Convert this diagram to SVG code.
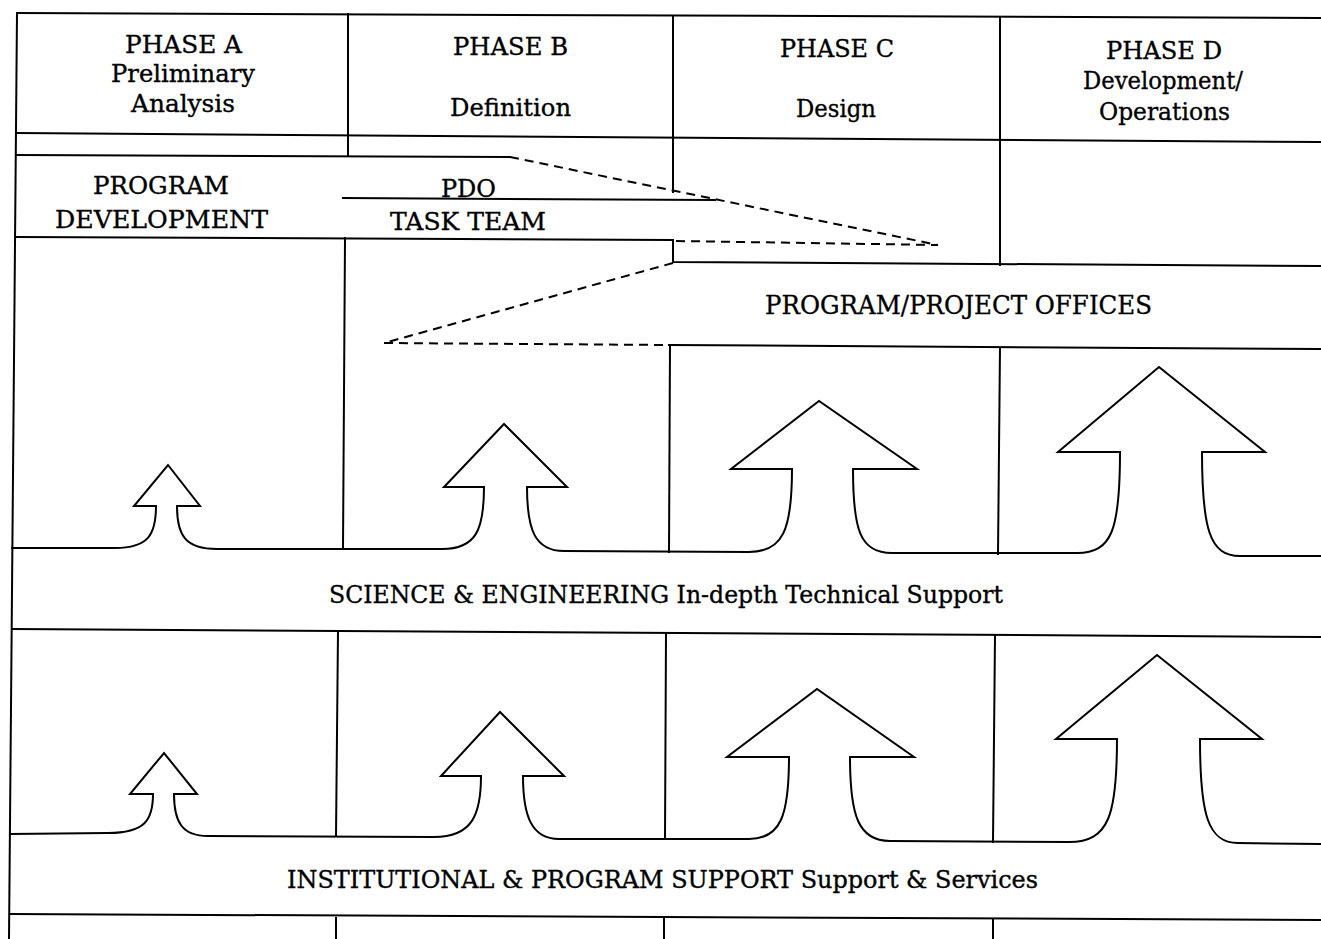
<svg xmlns="http://www.w3.org/2000/svg" width="1321" height="939" viewBox="0 0 1321 939">
<style>
.ln{fill:none;stroke:#000;stroke-width:2;stroke-linecap:square}
.ds{fill:none;stroke:#000;stroke-width:2;stroke-dasharray:9 6}
.t{font-family:"DejaVu Serif","Liberation Serif",serif;fill:#000;stroke:#000;stroke-width:0.35;text-anchor:middle}
.h{font-size:25px}
.b{font-size:24px}
.p{font-size:26px}
</style>
<rect width="1321" height="939" fill="#fff"/>
<g id="grid">
<path class="ln" d="M17 13 L1321 18"/>
<path class="ln" d="M17 13 L9 938"/>
<path class="ln" d="M17 133 L1321 142"/>
<path class="ln" d="M348 14 L348 155"/>
<path class="ln" d="M673 16 L673 192"/>
<path class="ln" d="M1000 17 L1000 265"/>
<path class="ln" d="M17 155 L510 157"/>
<path class="ln" d="M343 198 L715 200"/>
<path class="ln" d="M17 237 L673 240 L673 262 L1321 266"/>
<path class="ln" d="M345 238 L343 549"/>
<path class="ln" d="M669 345 L1321 349"/>
<path class="ln" d="M670 345 L669 552"/>
<path class="ln" d="M1000 348 L998 554"/>
<path class="ln" d="M12 629 L680 633 L1321 637"/>
<path class="ln" d="M338 632 L336 836"/>
<path class="ln" d="M666 634 L665 839"/>
<path class="ln" d="M995 636 L993 842"/>
<path class="ln" d="M10 914 L1321 920"/>
<path class="ln" d="M336 918 L336 939"/>
<path class="ln" d="M664 919 L664 939"/>
<path class="ln" d="M993 920 L993 939"/>
</g>
<g id="connectors">
<path class="ds" d="M510 157 L938 245"/>
<path class="ds" d="M676 241 L938 245"/>
<path class="ds" d="M673 263 L384 343"/>
<path class="ds" d="M384 343 L669 345"/>
</g>
<g id="phase-a">
<text class="t h" x="183.5" y="53" textLength="117" lengthAdjust="spacingAndGlyphs">PHASE A</text>
<text class="t h" x="183" y="82" textLength="144" lengthAdjust="spacingAndGlyphs">Preliminary</text>
<text class="t h" x="183" y="112" textLength="104" lengthAdjust="spacingAndGlyphs">Analysis</text>
</g>
<g id="phase-b">
<text class="t h" x="510.5" y="55" textLength="115" lengthAdjust="spacingAndGlyphs">PHASE B</text>
<text class="t h" x="510.5" y="116" textLength="121" lengthAdjust="spacingAndGlyphs">Definition</text>
</g>
<g id="phase-c">
<text class="t h" x="837" y="57" textLength="114" lengthAdjust="spacingAndGlyphs">PHASE C</text>
<text class="t h" x="836" y="117" textLength="80" lengthAdjust="spacingAndGlyphs">Design</text>
</g>
<g id="phase-d">
<text class="t h" x="1164" y="59" textLength="116" lengthAdjust="spacingAndGlyphs">PHASE D</text>
<text class="t h" x="1163" y="89" textLength="160" lengthAdjust="spacingAndGlyphs">Development/</text>
<text class="t h" x="1164.5" y="120" textLength="131" lengthAdjust="spacingAndGlyphs">Operations</text>
</g>
<g id="program-development">
<text class="t h" x="161" y="194" textLength="136" lengthAdjust="spacingAndGlyphs">PROGRAM</text>
<text class="t h" x="161.5" y="228" textLength="213" lengthAdjust="spacingAndGlyphs">DEVELOPMENT</text>
</g>
<g id="pdo-task-team">
<text class="t h" x="468.5" y="197" textLength="55" lengthAdjust="spacingAndGlyphs">PDO</text>
<text class="t h" x="468" y="230" textLength="156" lengthAdjust="spacingAndGlyphs">TASK TEAM</text>
</g>
<g id="program-project-offices">
<text class="t p" x="958.5" y="314" textLength="387" lengthAdjust="spacingAndGlyphs">PROGRAM/PROJECT OFFICES</text>
</g>
<g id="science-engineering">
<path class="ln" d="M12 548 L115 548 C148 548 156 535 156 506 L134 506 L168 465 L200 506 L177 506 C177 535 185 549 217 549 L442 549 C476 549 484 530 484 487 L444 487 L504 424 L567 487 L527 487 C527 530 535 551 564 551 L749 552 C783 552 792 530 792 469 L731 469 L819 401 L917 469 L853 469 C853 530 860 553 892 553 L1077 553 C1112 553 1120 530 1120 452 L1058 452 L1159 367 L1265 452 L1202 452 C1202 530 1210 556 1240 556 L1321 556"/>
<text class="t b" x="666" y="603" textLength="674" lengthAdjust="spacingAndGlyphs">SCIENCE &amp; ENGINEERING In-depth Technical Support</text>
</g>
<g id="institutional-program-support">
<path class="ln" d="M10 834 L108 833 C145 833 153 820 153 794 L130 794 L164 753 L197 794 L174 794 C174 822 182 836 208 836 L434 837 C472 837 481 815 481 776 L441 776 L500 712 L564 776 L523 776 C523 815 531 839 559 839 L749 839 C781 839 789 815 789 757 L727 757 L817 689 L914 757 L850 757 C850 815 858 841 890 841 L1069 842 C1109 842 1117 815 1117 739 L1056 739 L1157 655 L1262 739 L1200 739 C1200 815 1208 843 1238 843 L1321 844"/>
<text class="t b" x="662.5" y="888" textLength="751" lengthAdjust="spacingAndGlyphs">INSTITUTIONAL &amp; PROGRAM SUPPORT Support &amp; Services</text>
</g>
</svg>
